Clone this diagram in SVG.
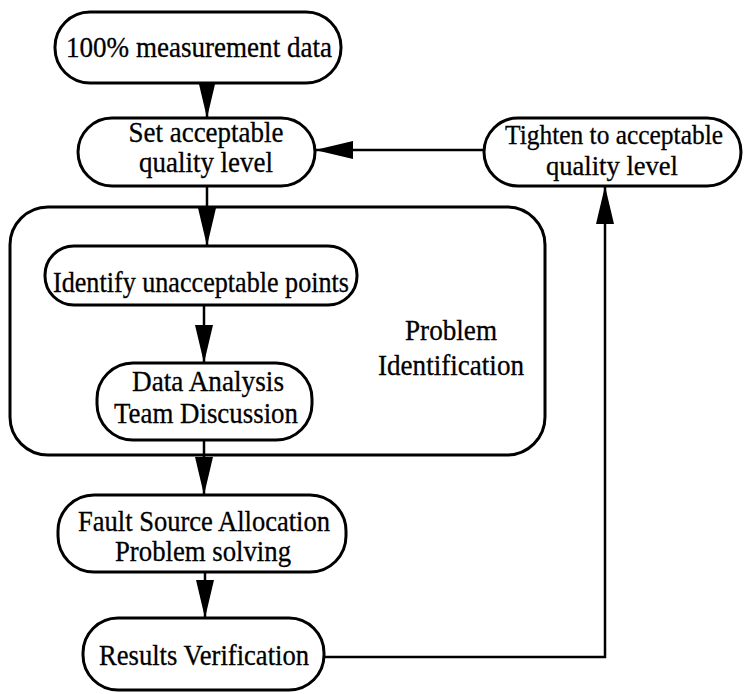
<svg xmlns="http://www.w3.org/2000/svg" width="744" height="694" viewBox="0 0 744 694">
  <style>
    .box { fill: #fff; stroke: #000; stroke-width: 3; }
    .grp { fill: none; stroke: #000; stroke-width: 3; }
    .lbl { font-family: "Liberation Serif", "Times New Roman", serif; font-size: 29px; fill: #000; stroke: #000; stroke-width: 0.3; text-anchor: middle; }
    .sm { font-size: 27px; }
    .edge { fill: none; stroke: #000; stroke-width: 2.5; }
  </style>
  <defs>
    <marker id="arrow" markerUnits="userSpaceOnUse" markerWidth="38" markerHeight="20" viewBox="0 0 38 20" refX="38" refY="10" orient="auto">
      <path d="M0,1 L38,10 L0,19 Z" fill="#000"/>
    </marker>
  </defs>

  <rect width="744" height="694" fill="#fff"/>

  <!-- group frame -->
  <g id="problem-identification">
    <rect class="grp" x="10" y="207" width="535" height="248" rx="38"/>
    <text class="lbl" x="451" y="340" textLength="92" lengthAdjust="spacingAndGlyphs">Problem</text>
    <text class="lbl" x="451" y="375" textLength="146" lengthAdjust="spacingAndGlyphs">Identification</text>
  </g>

  <!-- connectors -->
  <g id="connectors">
    <line class="edge" x1="207" y1="83" x2="207" y2="118" marker-end="url(#arrow)"/>
    <line class="edge" x1="207" y1="186" x2="207" y2="246" marker-end="url(#arrow)"/>
    <line class="edge" x1="204" y1="305" x2="204" y2="363" marker-end="url(#arrow)"/>
    <line class="edge" x1="204" y1="440" x2="204" y2="495" marker-end="url(#arrow)"/>
    <line class="edge" x1="205" y1="572" x2="205" y2="618" marker-end="url(#arrow)"/>
    <line class="edge" x1="484" y1="150" x2="315" y2="150" marker-end="url(#arrow)"/>
    <polyline class="edge" points="324,657 605,657 605,186" marker-end="url(#arrow)"/>
  </g>

  <g id="measurement-data">
    <rect class="box" x="55" y="12" width="286" height="71" rx="35"/>
    <text class="lbl" x="199" y="57" textLength="266" lengthAdjust="spacingAndGlyphs">100% measurement data</text>
  </g>

  <g id="set-level">
    <rect class="box" x="78" y="118" width="237" height="68" rx="34"/>
    <text class="lbl" x="206" y="142" textLength="155" lengthAdjust="spacingAndGlyphs">Set acceptable</text>
    <text class="lbl" x="206" y="172" textLength="134" lengthAdjust="spacingAndGlyphs">quality level</text>
  </g>

  <g id="tighten-level">
    <rect class="box" x="484" y="118" width="257" height="68" rx="34"/>
    <text class="lbl sm" x="614" y="144" textLength="218" lengthAdjust="spacingAndGlyphs">Tighten to acceptable</text>
    <text class="lbl sm" x="612" y="175" textLength="132" lengthAdjust="spacingAndGlyphs">quality level</text>
  </g>

  <g id="identify-points">
    <rect class="box" x="45" y="246" width="312" height="59" rx="29"/>
    <text class="lbl" x="201" y="292" textLength="296" lengthAdjust="spacingAndGlyphs">Identify unacceptable points</text>
  </g>

  <g id="data-analysis">
    <rect class="box" x="97" y="363" width="215" height="77" rx="36"/>
    <text class="lbl" x="208" y="391" textLength="152" lengthAdjust="spacingAndGlyphs">Data Analysis</text>
    <text class="lbl" x="206" y="423" textLength="184" lengthAdjust="spacingAndGlyphs">Team Discussion</text>
  </g>

  <g id="fault-source">
    <rect class="box" x="58" y="495" width="288" height="77" rx="36"/>
    <text class="lbl" x="204" y="531" textLength="252" lengthAdjust="spacingAndGlyphs">Fault Source Allocation</text>
    <text class="lbl" x="203" y="561" textLength="176" lengthAdjust="spacingAndGlyphs">Problem solving</text>
  </g>

  <g id="results-verification">
    <rect class="box" x="83" y="618" width="241" height="72" rx="35"/>
    <text class="lbl" x="204" y="665" textLength="210" lengthAdjust="spacingAndGlyphs">Results Verification</text>
  </g>
</svg>
